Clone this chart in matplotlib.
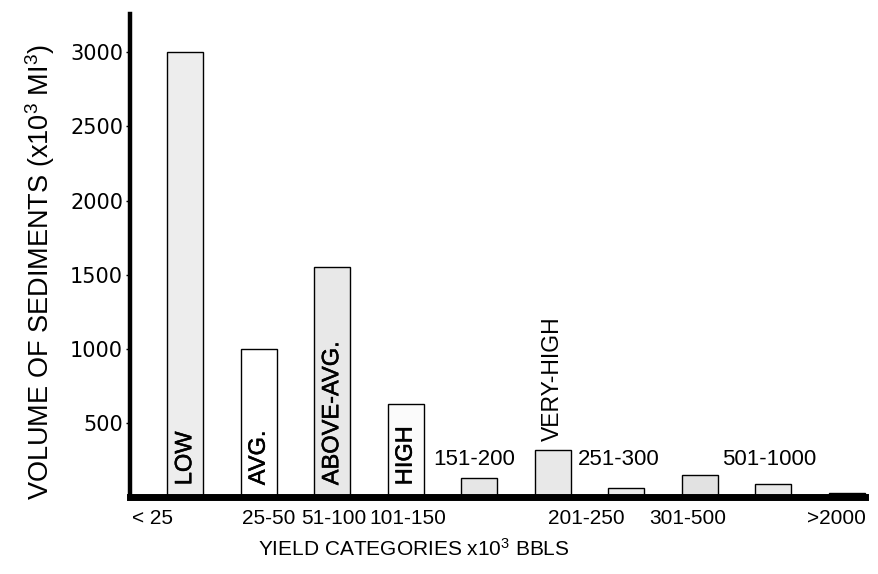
import matplotlib
matplotlib.use("Agg")
import matplotlib.pyplot as plt
from matplotlib import patheffects

# Sediment volume per yield category
classes = ["LOW", "AVG.", "ABOVE-AVG.", "HIGH", "", "VERY-HIGH", "", "", "", ""]
volumes = [3000, 1000, 1550, 625, 130, 320, 60, 150, 90, 30]
fills = ["#ededed", "#ffffff", "#e8e8e8", "#fbfbfb", "#e6e6e6",
         "#e8e8e8", "#ececec", "#e2e2e2", "#e8e8e8", "#111111"]

# Range labels below the axis: (bar index, offset, text)
below_idx = [0, 1, 2, 3, 5, 7, 9]
below_off = [-0.45, 0.13, 0.02, 0.03, 0.46, -0.16, -0.14]
below_txt = ["< 25", "25-50", "51-100", "101-150", "201-250", "301-500", ">2000"]

# Range labels above the small bars
above_idx = [4, 6, 8]
above_off = [-0.07, -0.10, -0.06]
above_txt = ["151-200", "251-300", "501-1000"]

yticks = [500, 1000, 1500, 2000, 2500, 3000]

plt.rcParams["mathtext.fontset"] = "custom"
plt.rcParams["mathtext.rm"] = "Liberation Sans"
plt.rcParams["mathtext.it"] = "Liberation Sans"

heavy = [patheffects.withStroke(linewidth=0.35, foreground="black")]

fig = plt.figure(figsize=(8.79, 5.74), dpi=100)
ax = fig.add_axes([0.148, 0.134, 0.842, 0.842])

x = list(range(len(volumes)))
ax.bar(x, volumes, width=0.49, color=fills, edgecolor="black", linewidth=1.0, zorder=2)

ax.set_xlim(-0.75, 9.32)
ax.set_ylim(0, 3260)

for s in ("top", "right"):
    ax.spines[s].set_visible(False)
ax.spines["left"].set_linewidth(3.2)
ax.spines["bottom"].set_linewidth(5.0)
ax.spines["bottom"].set_bounds(-0.75, 9.25)
ax.spines["left"].set_zorder(3)
ax.spines["bottom"].set_zorder(3)

ax.set_xticks([])
ax.set_yticks(yticks)
ax.set_yticklabels([str(v) for v in yticks], fontsize=15, family="DejaVu Sans")
ax.tick_params(axis="y", length=3, width=1, pad=2)

# Category names written inside (or above) the bars
for i, (name, v) in enumerate(zip(classes, volumes)):
    if not name:
        continue
    if name == "VERY-HIGH":
        ax.text(i, v + 55, name, rotation=90, ha="center", va="bottom",
                fontsize=16.5, family="Liberation Sans", zorder=4)
    else:
        ax.text(i, 80, name, rotation=90, ha="center", va="bottom",
                fontsize=17, family="Liberation Sans", zorder=4,
                path_effects=heavy)

for i, off, t in zip(above_idx, above_off, above_txt):
    ax.text(i + off, 182, t, ha="center", va="bottom",
            fontsize=16, family="Liberation Sans")

for i, off, t in zip(below_idx, below_off, below_txt):
    ax.text(i + off, -142, t, ha="center", va="center",
            fontsize=15, family="Liberation Sans", clip_on=False)

fig.text(40 / 879, 1 - 272 / 574, r"VOLUME OF SEDIMENTS (x10$^{3}$ MI$^{3}$)",
         rotation=90, ha="center", va="center", fontsize=19.5, family="Liberation Sans")
fig.text(414 / 879, 1 - 549 / 574, r"YIELD CATEGORIES x10$^{3}$ BBLS",
         ha="center", va="center", fontsize=15, family="Liberation Sans")

fig.savefig("out.png", dpi=100, facecolor="white")
